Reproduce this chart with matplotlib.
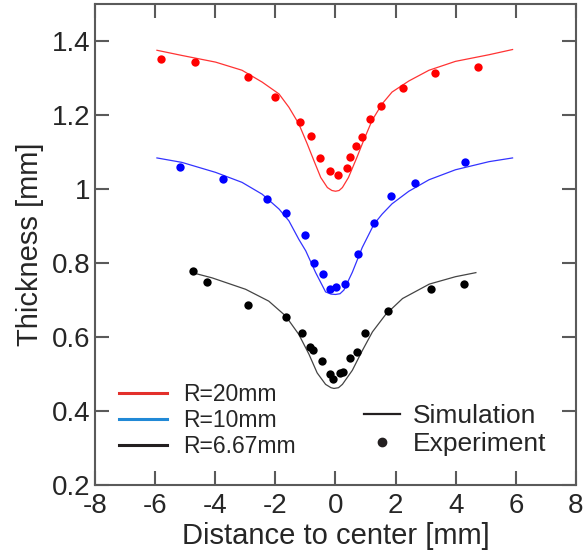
import matplotlib
matplotlib.use("Agg")
import matplotlib.pyplot as plt
from matplotlib.lines import Line2D

plt.rcParams["font.family"] = ["Liberation Sans", "DejaVu Sans"]
plt.rcParams["axes.unicode_minus"] = False

# simulated thickness profiles
sim_x_20 = [-5.94, -5.11, -3.99, -3.11, -2.44, -1.88, -1.55, -1.22, -0.94, -0.72, -0.49, -0.27,
            -0.12, 0.0, 0.12, 0.23, 0.43, 0.72, 0.94, 1.22, 1.55, 1.88, 2.44, 3.11, 3.99,
            5.11, 5.89]
sim_y_20 = [1.375, 1.361, 1.343, 1.321, 1.289, 1.257, 1.221, 1.176, 1.122, 1.077, 1.031, 1.004,
            0.996, 0.994, 0.996, 1.004, 1.031, 1.087, 1.132, 1.186, 1.230, 1.262, 1.292, 1.321,
            1.345, 1.363, 1.377]

sim_x_10 = [-5.94, -5.11, -3.99, -3.11, -2.44, -1.88, -1.55, -1.22, -0.99, -0.66, -0.33, -0.15,
            0.0, 0.15, 0.28, 0.56, 0.89, 1.28, 1.55, 1.88, 2.44, 3.11, 3.99, 5.11, 5.89]
sim_y_10 = [1.084, 1.072, 1.045, 1.018, 0.986, 0.946, 0.914, 0.864, 0.833, 0.774, 0.722, 0.716,
            0.715, 0.717, 0.727, 0.775, 0.842, 0.905, 0.932, 0.960, 0.994, 1.025, 1.052, 1.074,
            1.084]

sim_x_667 = [-4.77, -4.11, -2.99, -2.22, -1.66, -1.22, -0.88, -0.61, -0.33, -0.15, -0.05,
             0.1, 0.23, 0.56, 0.89, 1.23, 1.67, 2.23, 3.12, 3.99, 4.67]
sim_y_667 = [0.774, 0.760, 0.729, 0.697, 0.657, 0.607, 0.553, 0.503, 0.472, 0.463, 0.461,
             0.463, 0.472, 0.510, 0.563, 0.614, 0.661, 0.704, 0.743, 0.763, 0.774]

# measured thickness
exp_x_20 = [-5.82, -4.66, -2.92, -2.01, -1.19, -0.83, -0.52, -0.19, 0.08, 0.39, 0.48,
            0.67, 0.87, 1.16, 1.51, 2.24, 3.31, 4.73]
exp_y_20 = [1.352, 1.344, 1.302, 1.248, 1.182, 1.144, 1.084, 1.048, 1.039, 1.056, 1.086,
            1.115, 1.140, 1.190, 1.224, 1.272, 1.313, 1.331]

exp_x_10 = [-5.16, -3.75, -2.27, -1.66, -1.02, -0.72, -0.42, -0.19, 0.01, 0.32, 0.76,
            1.28, 1.86, 2.64, 4.31]
exp_y_10 = [1.060, 1.028, 0.973, 0.936, 0.877, 0.801, 0.771, 0.729, 0.735, 0.744, 0.825,
            0.909, 0.980, 1.016, 1.073]

exp_x_667 = [-4.75, -4.26, -2.92, -1.64, -1.13, -0.86, -0.74, -0.46, -0.19, -0.07, 0.14,
             0.26, 0.47, 0.73, 0.98, 1.76, 3.19, 4.26]
exp_y_667 = [0.779, 0.748, 0.687, 0.653, 0.610, 0.573, 0.564, 0.535, 0.499, 0.487, 0.503,
             0.505, 0.542, 0.560, 0.610, 0.669, 0.729, 0.743]

radius_labels = ["R=20mm", "R=10mm", "R=6.67mm"]
legend_colors = ["#e3302b", "#2189d6", "#231f20"]
x_ticks = [-8, -6, -4, -2, 0, 2, 4, 6, 8]
y_ticks = [0.2, 0.4, 0.6, 0.8, 1.0, 1.2, 1.4]
y_tick_labels = ["0.2", "0.4", "0.6", "0.8", "1", "1.2", "1.4"]

text_color = "#262626"
spine_color = "#5a5a5a"

fig = plt.figure(figsize=(5.85, 5.58), dpi=100)
ax = fig.add_axes([0.1624, 0.1308, 0.8222, 0.862])

ax.plot(sim_x_20, sim_y_20, color="#ff3333", lw=0.9)
ax.plot(sim_x_10, sim_y_10, color="#3333ff", lw=0.9)
ax.plot(sim_x_667, sim_y_667, color="#444444", lw=0.9)

ax.plot(exp_x_20, exp_y_20, "o", color="#ff0000", ms=6, mec="none")
ax.plot(exp_x_10, exp_y_10, "o", color="#0000ff", ms=6, mec="none")
ax.plot(exp_x_667, exp_y_667, "o", color="#000000", ms=6, mec="none")

ax.set_xlim(-8, 8)
ax.set_ylim(0.2, 1.5)
ax.set_xticks(x_ticks)
ax.set_xticklabels([str(t) for t in x_ticks])
ax.set_yticks(y_ticks)
ax.set_yticklabels(y_tick_labels)

ax.tick_params(direction="in", length=10, width=1.5, color=spine_color,
               labelsize=20, labelcolor=text_color, top=True, right=True)
ax.tick_params(axis="y", pad=3)
ax.tick_params(axis="x", pad=6)
for s in ax.spines.values():
    s.set_color(spine_color)
    s.set_linewidth(1.5)

ax.set_xlabel("Distance to center [mm]", fontsize=21, color=text_color, labelpad=2)
ax.set_ylabel("Thickness [mm]", fontsize=21, color=text_color, labelpad=6)

# legend for the three radii
radius_handles = [Line2D([0], [0], color=c, lw=2.2) for c in legend_colors]
leg1 = ax.legend(radius_handles, radius_labels, loc="lower left",
                 bbox_to_anchor=(0.05, 0.057), frameon=False, fontsize=16.5,
                 handlelength=2.1, handletextpad=0.7, labelspacing=0.12,
                 borderpad=0, borderaxespad=0, labelcolor=text_color)
ax.add_artist(leg1)

# legend for line / marker meaning
kind_handles = [Line2D([0], [0], color="#231f20", lw=1.6),
                Line2D([0], [0], color="#231f20", ls="none", marker="o", ms=6)]
ax.legend(kind_handles, ["Simulation", "Experiment"], loc="lower left",
          bbox_to_anchor=(0.56, 0.06), frameon=False, fontsize=19,
          handlelength=1.35, handletextpad=0.5, labelspacing=0.15,
          borderpad=0, borderaxespad=0, labelcolor=text_color)

fig.savefig("out.png", dpi=100)
